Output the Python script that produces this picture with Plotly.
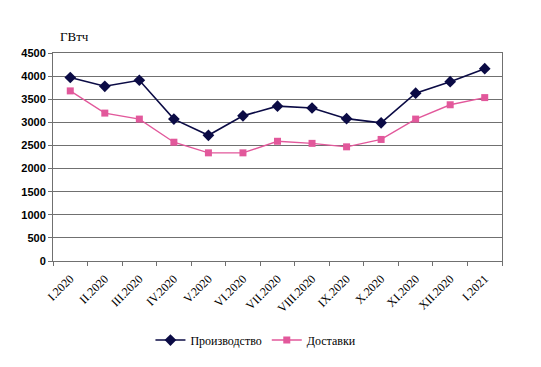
import plotly.graph_objects as go

months = ["I.2020", "II.2020", "III.2020", "IV.2020", "V.2020", "VI.2020", "VII.2020",
          "VIII.2020", "IX.2020", "X.2020", "XI.2020", "XII.2020", "I.2021"]
production = [3970, 3780, 3910, 3070, 2720, 3140, 3350, 3310, 3080, 2990, 3630, 3880, 4160]
deliveries = [3680, 3200, 3070, 2570, 2340, 2340, 2590, 2545, 2470, 2630, 3070, 3380, 3535]
y_ticks = [0, 500, 1000, 1500, 2000, 2500, 3000, 3500, 4000, 4500]

serif = "Liberation Serif, Times New Roman, serif"

fig = go.Figure()
fig.add_trace(go.Scatter(x=months, y=production, name="Производство", mode="lines+markers",
                         line=dict(color="#0b0b45", width=1.6),
                         marker=dict(symbol="diamond", size=9, color="#0b0b45")))
fig.add_trace(go.Scatter(x=months, y=deliveries, name="Доставки", mode="lines+markers",
                         line=dict(color="#e2589b", width=1.4),
                         marker=dict(symbol="square", size=7, color="#e2589b")))

# page body has an 8px default margin, so the figure is sized to fit the window
fig.update_layout(
    width=533, height=359,
    margin=dict(l=45, r=39, t=45, b=106, autoexpand=False),
    paper_bgcolor="white", plot_bgcolor="white",
    showlegend=True,
    legend=dict(orientation="h", x=0.452, xanchor="center", y=-0.38, yanchor="middle",
                font=dict(family=serif, size=12, color="#000000"), itemwidth=30),
    xaxis=dict(type="category", range=[-0.5, 12.5], tickangle=-45, tickson="boundaries",
               ticks="outside", ticklen=4, tickcolor="#707070", automargin=False,
               ticklabelstandoff=5,
               showline=True, linecolor="#707070", linewidth=1, mirror=True,
               showgrid=False,
               tickfont=dict(family=serif, size=12, color="#000000")),
    yaxis=dict(range=[0, 4500], tickvals=y_ticks, ticks="outside", ticklen=4, tickcolor="#707070",
               showline=True, linecolor="#707070", linewidth=1, mirror=True, automargin=False,
               showgrid=True, gridcolor="#707070", gridwidth=1, zeroline=False,
               tickfont=dict(family="Liberation Sans, Arial, sans-serif", size=11, color="#000000", weight="bold")),
    annotations=[dict(text="ГВтч", xref="paper", yref="paper", x=0.012, y=1.077,
                      xanchor="left", yanchor="middle", showarrow=False,
                      font=dict(family=serif, size=13, color="#000000"))],
)

fig.write_html("out.html")
